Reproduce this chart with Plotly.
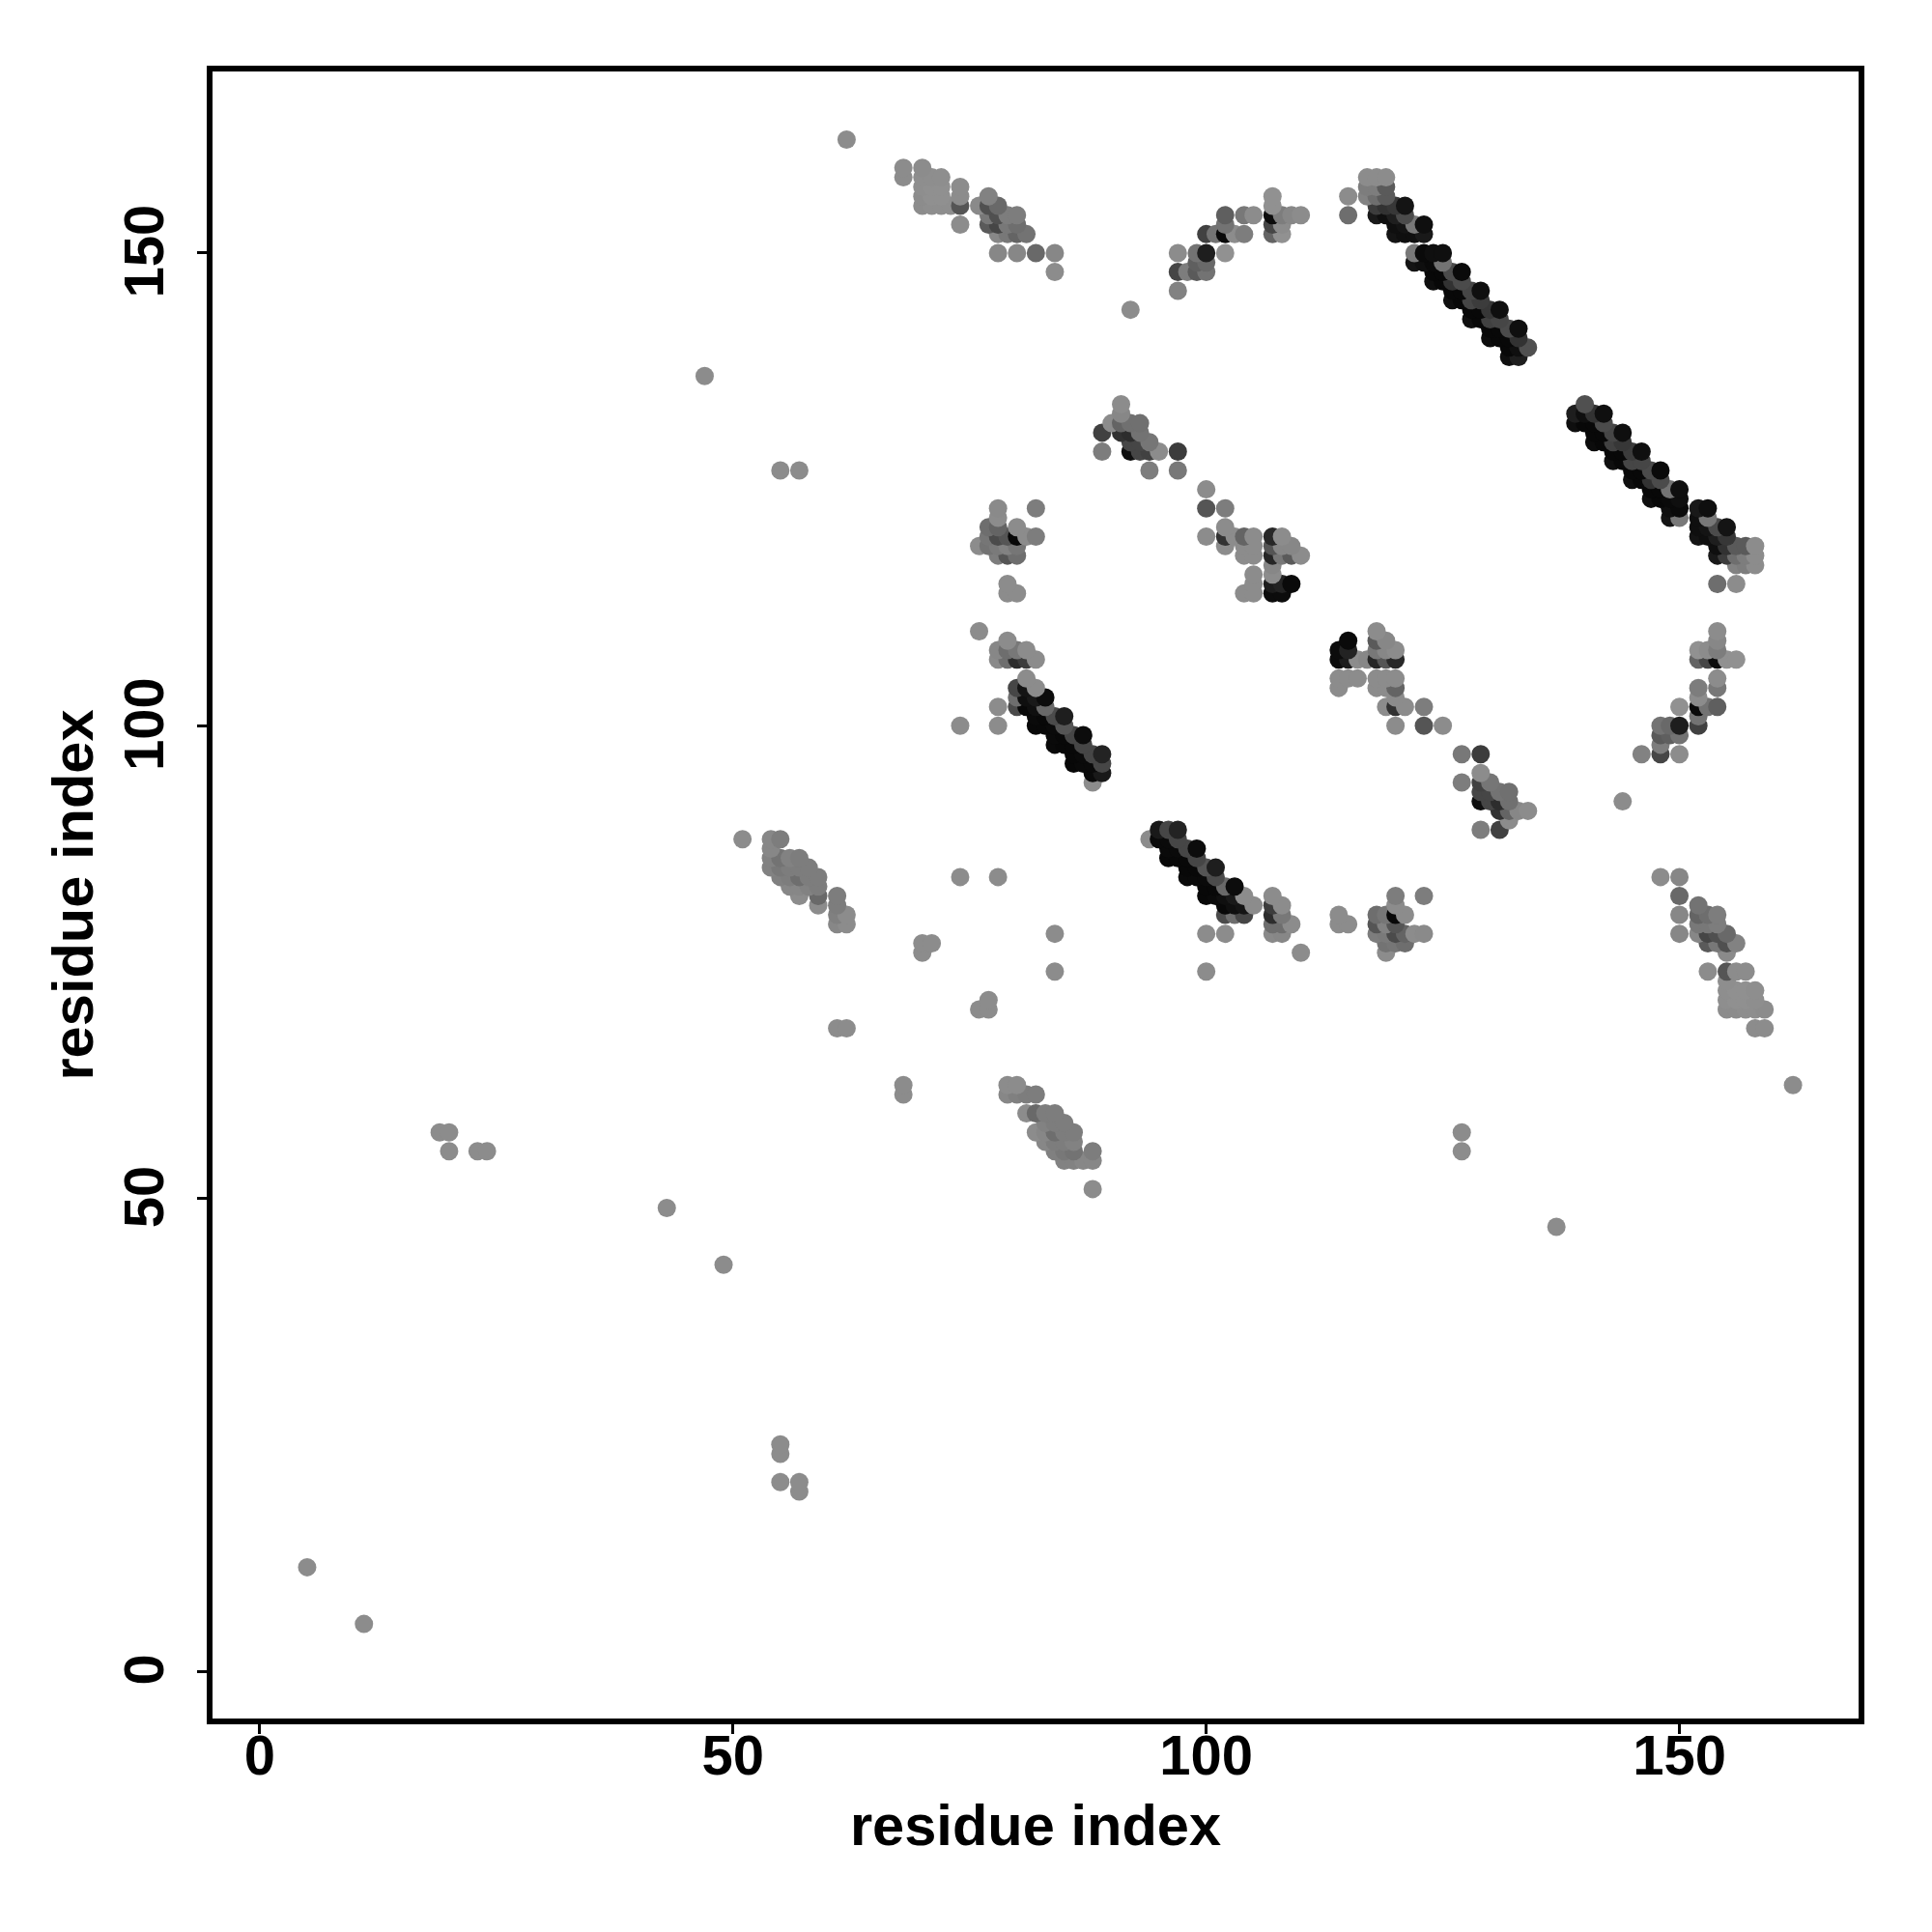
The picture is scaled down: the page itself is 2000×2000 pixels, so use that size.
import plotly.graph_objects as go

# Upper triangle of the symmetric contact map: residue pair and grey level of the dot.
res_i = [5, 19, 20, 20, 23, 24, 43, 47, 51,
    54, 54, 54, 54,
    55, 55, 55, 55, 55,
    56, 56, 56, 56,
    57, 57, 57, 57, 57, 57,
    58, 58, 58,
    59, 59, 59, 59,
    61, 61, 61, 61, 61,
    62, 62, 62, 62,
    68, 68,
    70, 70, 70, 70, 70, 70, 70,
    71, 71, 71, 71, 71,
    72, 72, 72, 72,
    73,
    74, 74, 74, 74, 74, 74,
    76, 76, 76,
    77, 77, 77, 77, 77, 77, 77,
    78, 78, 78, 78, 78, 78, 78, 78, 78, 78, 78, 78, 78, 78, 78, 78,
    79, 79, 79, 79, 79, 79, 79, 79, 79, 79, 79,
    80, 80, 80, 80, 80, 80, 80, 80, 80, 80, 80, 80, 80, 80,
    81, 81, 81, 81, 81, 81, 81, 81,
    82, 82, 82, 82, 82, 82, 82, 82, 82,
    83, 83, 83, 83,
    84, 84, 84, 84, 84, 84, 84,
    85, 85, 85, 85,
    86, 86, 86, 86,
    87, 87, 87, 87,
    88, 88, 88, 88,
    89, 89, 89, 89, 89,
    90,
    91, 91, 91, 91,
    92, 92, 92, 92, 92,
    93, 93, 93, 93,
    94, 94, 94,
    95,
    97, 97, 97, 97, 97,
    98,
    99, 99, 99,
    100, 100, 100, 100, 100, 100, 100,
    101,
    102, 102, 102, 102, 102, 102, 102, 102,
    103, 103,
    104, 104, 104, 104, 104, 104,
    105, 105, 105, 105, 105, 105, 105,
    107, 107, 107, 107, 107, 107, 107, 107, 107, 107, 107, 107,
    108, 108, 108, 108, 108, 108, 108, 108,
    109, 109, 109, 109,
    110, 110,
    115, 115,
    117, 117, 117,
    118, 118, 118, 118, 118,
    119, 119, 119, 119, 119,
    120, 120, 120, 120,
    121, 121, 121, 121,
    122, 122, 122, 122,
    123, 123, 123, 123,
    124, 124, 124, 124,
    125, 125, 125, 125,
    126, 126, 126, 126,
    127, 127, 127, 127,
    128, 128, 128, 128,
    129, 129, 129, 129,
    130, 130, 130, 130,
    131, 131, 131, 131,
    132, 132, 132, 132,
    133, 133, 133, 133,
    134]

res_j = [11, 57, 55, 57, 55, 55, 49, 137, 88,
    85, 86, 87, 88,
    84, 85, 86, 88, 127,
    83, 84, 85, 86,
    82, 83, 84, 85, 86, 127,
    83, 84, 85,
    81, 82, 83, 84,
    68, 79, 80, 81, 82,
    68, 79, 80, 162,
    158, 159,
    76, 77, 155, 156, 157, 158, 159,
    77, 155, 156, 157, 158,
    155, 156, 157, 158,
    155,
    84, 100, 153, 155, 156, 157,
    110, 119, 155,
    119, 120, 121, 153, 154, 155, 156,
    84, 100, 102, 107, 108, 118, 119, 120, 121, 122, 123, 150, 152, 153, 154, 155,
    107, 108, 109, 114, 115, 118, 119, 120, 152, 153, 154,
    102, 103, 104, 107, 108, 114, 118, 119, 120, 121, 150, 152, 153, 154,
    102, 103, 104, 105, 107, 108, 120, 152,
    100, 101, 102, 103, 104, 107, 120, 123, 150,
    100, 101, 102, 103,
    78, 98, 99, 100, 101, 148, 150,
    98, 99, 100, 101,
    96, 97, 98, 99,
    96, 97, 98, 99,
    94, 95, 96, 97,
    95, 96, 97, 129, 131,
    132,
    131, 132, 133, 134,
    129, 130, 131, 132, 144,
    129, 130, 131, 132,
    127, 129, 130,
    129,
    127, 129, 146, 148, 150,
    148,
    148, 149, 150,
    120, 123, 125, 148, 149, 150, 152,
    152,
    119, 120, 121, 123, 150, 152, 153, 154,
    120, 152,
    114, 118, 119, 120, 152, 154,
    114, 115, 116, 118, 119, 120, 154,
    114, 115, 116, 117, 118, 119, 120, 152, 153, 154, 155, 156,
    114, 115, 118, 119, 120, 152, 153, 154,
    115, 118, 119, 154,
    118, 154,
    154, 156,
    156, 157, 158,
    154, 155, 156, 157, 158,
    154, 155, 156, 157, 158,
    152, 153, 154, 155,
    152, 153, 154, 155,
    149, 150, 152, 153,
    149, 150, 152, 153,
    147, 148, 149, 150,
    147, 148, 149, 150,
    145, 146, 147, 148,
    145, 146, 147, 148,
    143, 144, 145, 146,
    143, 144, 145, 146,
    141, 142, 143, 144,
    141, 142, 143, 144,
    139, 140, 141, 142,
    139, 140, 141, 142,
    140]

shade = [140, 140, 140, 140, 140, 140, 140, 140, 140,
    130, 130, 135, 135,
    128, 120, 115, 125, 140,
    135, 125, 125, 130,
    140, 135, 110, 125, 125, 140,
    130, 125, 125,
    140, 105, 125, 125,
    140, 135, 128, 125, 125,
    140, 140, 140, 140,
    140, 140,
    140, 140, 140, 140, 142, 142, 140,
    140, 142, 144, 144, 142,
    142, 144, 144, 142,
    142,
    140, 140, 140, 85, 140, 140,
    140, 140, 138,
    115, 118, 110, 90, 120, 80, 130,
    140, 140, 140, 138, 135, 125, 122, 75, 100, 140, 138, 135, 135, 70, 80, 105,
    110, 110, 140, 140, 140, 85, 130, 85, 120, 120, 125,
    75, 110, 70, 45, 120, 140, 110, 118, 8, 140, 135, 100, 110, 125,
    8, 15, 20, 140, 60, 140, 140, 115,
    8, 10, 15, 25, 140, 140, 125, 125, 105,
    8, 8, 105, 12,
    140, 10, 10, 10, 75, 140, 135,
    8, 8, 85, 30,
    8, 8, 8, 70,
    10, 10, 70, 12,
    140, 10, 10, 70,
    25, 70, 35, 125, 65,
    140,
    50, 100, 135, 140,
    15, 70, 45, 112, 140,
    70, 70, 115, 112,
    125, 65, 118,
    140,
    120, 60, 130, 70, 140,
    125,
    90, 95, 115,
    140, 85, 140, 115, 105, 30, 65,
    115,
    140, 50, 140, 125, 145, 10, 115, 95,
    140, 140,
    140, 140, 140, 100, 125, 120,
    140, 140, 140, 140, 140, 140, 140,
    12, 28, 140, 135, 38, 85, 40, 100, 70, 12, 145, 145,
    12, 35, 120, 135, 140, 145, 140, 125,
    10, 90, 135, 135,
    140, 140,
    110, 140,
    130, 125, 140,
    25, 60, 110, 125, 140,
    15, 50, 90, 90, 140,
    20, 15, 30, 55,
    15, 20, 75, 20,
    20, 120, 15, 120,
    15, 10, 25, 15,
    15, 8, 10, 15,
    8, 8, 115, 15,
    15, 8, 50, 75,
    8, 8, 75, 10,
    15, 8, 70, 70,
    8, 8, 60, 15,
    12, 8, 65, 55,
    8, 8, 70, 15,
    15, 8, 8, 75,
    30, 15, 50, 15,
    80]

assert len(res_i) == len(res_j) == len(shade)

tick_values = [0, 50, 100, 150]
axis_label = "residue index"

# The map is symmetric; the original draws row by row, so sort on y then x.
pairs = list(zip(res_i, res_j, shade))
pts = pairs + [(b, a, g) for a, b, g in pairs]
pts = sorted(set(pts), key=lambda p: (p[1], p[0]))

fig = go.Figure(go.Scatter(
    x=[p[0] for p in pts],
    y=[p[1] for p in pts],
    mode="markers",
    marker=dict(size=19, color=[p[2] for p in pts], cmin=0, cmax=255,
                colorscale=[[0, "#000000"], [1, "#ffffff"]], showscale=False,
                line=dict(width=0), opacity=1),
    hoverinfo="skip",
))

FONT = "Liberation Sans"
title_font = dict(family=FONT, size=59.6, color="black", weight="bold")
axis = dict(
    tickvals=tick_values, ticks="outside", ticklen=10, tickwidth=3, tickcolor="black",
    showline=True, linecolor="black", linewidth=6, mirror=True,
    showgrid=False, zeroline=False,
    tickfont=dict(family=FONT, size=58, color="black", weight="bold"),
)
fig.update_layout(
    width=2000, height=2000, autosize=False,
    paper_bgcolor="white", plot_bgcolor="white", showlegend=False,
    margin=dict(l=220, r=76, t=74.4, b=221, autoexpand=False),
    xaxis=dict(range=[-5.0, 168.93], ticklabelstandoff=-28,
               title=dict(text=axis_label, standoff=23, font=title_font), **axis),
    yaxis=dict(range=[-5.0, 169.2], tickangle=-90, ticklabelstandoff=12, ticklabelshift=7,
               title=dict(text=axis_label, standoff=2, font=title_font), **axis),
)
fig.write_html("out.html", config=dict(displayModeBar=False),
               post_script="document.body.style.margin='0';document.body.style.overflow='hidden';window.dispatchEvent(new Event('resize'));")
